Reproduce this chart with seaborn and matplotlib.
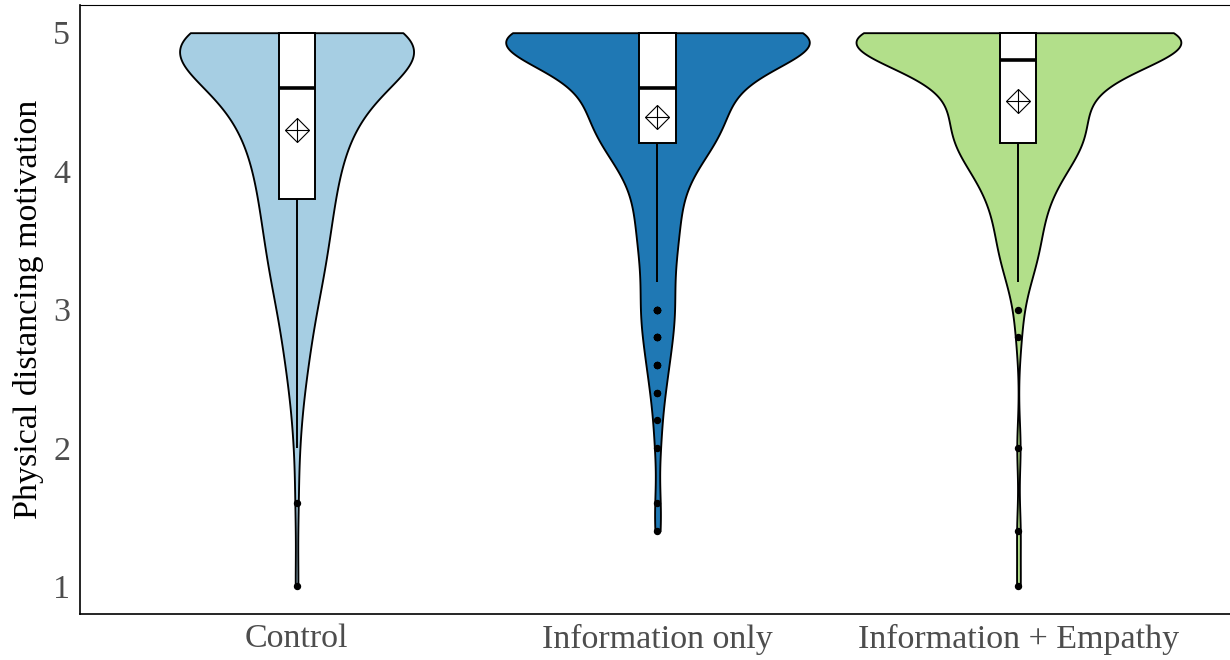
import numpy as np
import pandas as pd
import matplotlib
matplotlib.use("Agg")
import matplotlib.pyplot as plt
import seaborn as sns

# Study conditions and the response scale (mean of five 1-5 items)
conditions = ["Control", "Information only", "Information + Empathy"]
score_levels = [5.0, 4.8, 4.6, 4.4, 4.2, 4.0, 3.8, 3.6, 3.4, 3.2, 3.0,
                2.8, 2.6, 2.4, 2.2, 2.0, 1.8, 1.6, 1.4, 1.2, 1.0]

# Number of participants at each score level, per condition
control_counts = [55, 32, 21, 16, 13, 11, 10, 9, 8, 7, 5,
                  4, 3, 2, 1, 1, 0, 1, 0, 0, 1]
info_counts = [69, 30, 18, 19, 16, 9, 6, 6, 5, 4, 5,
               4, 3, 2, 1, 1, 0, 1, 1, 0, 0]
empathy_counts = [73, 34, 16, 18, 19, 12, 8, 6, 6, 3, 1,
                  1, 0, 0, 0, 1, 0, 0, 1, 0, 1]

y_ticks = [1, 2, 3, 4, 5]
y_label = "Physical distancing motivation"
fill_colors = ["#A6CEE3", "#1F78B4", "#B2DF8A"]

# Long-format table of individual responses
frames = []
for name, counts in zip(conditions, [control_counts, info_counts, empathy_counts]):
    scores = np.repeat(np.array(score_levels), counts)
    frames.append(pd.DataFrame({"condition": name, "score": scores}))
df = pd.concat(frames, ignore_index=True)


def silverman_nrd0(kde):
    # R's bw.nrd0 rule, expressed as a factor of the sample std
    x = np.asarray(kde.dataset).ravel()
    sd = x.std(ddof=1)
    q75, q25 = np.percentile(x, [75, 25])
    spread = min(sd, (q75 - q25) / 1.34)
    bw = 0.9 * spread * len(x) ** (-0.2)
    return bw / sd


sns.set_style("white")
plt.rcParams["font.family"] = ["Liberation Serif", "DejaVu Serif"]

fig = plt.figure(figsize=(12.3, 6.6), dpi=100)
ax = fig.add_axes([80 / 1230, 46 / 660, 1155 / 1230, 609 / 660])

sns.violinplot(
    data=df, x="condition", y="score", hue="condition",
    order=conditions, hue_order=conditions, palette=fill_colors,
    legend=False, cut=0, bw_method=silverman_nrd0, density_norm="area",
    common_norm=True, width=0.9, inner=None, linewidth=1.35,
    linecolor="black", saturation=1, gridsize=512, ax=ax,
)

sns.boxplot(
    data=df, x="condition", y="score", order=conditions,
    width=0.1, color="white", saturation=1, linewidth=1.4,
    linecolor="black", whis=1.5, showcaps=False, fliersize=4.3,
    flierprops=dict(marker="o", markerfacecolor="black",
                    markeredgecolor="black"),
    medianprops=dict(linewidth=2.6, color="black"),
    ax=ax,
)

# Group means: hollow diamond with a cross inside
sns.pointplot(
    data=df, x="condition", y="score", order=conditions,
    estimator="mean", errorbar=None, color="black",
    linestyle="none", marker="D", markersize=12.5,
    markerfacecolor="none", markeredgecolor="black",
    markeredgewidth=0.8, ax=ax,
)
sns.pointplot(
    data=df, x="condition", y="score", order=conditions,
    estimator="mean", errorbar=None, color="black",
    linestyle="none", marker="+", markersize=17.5,
    markeredgewidth=0.8, ax=ax,
)

ax.set_xlim(-0.6, 2.6)
ax.set_ylim(0.8, 5.2)
ax.set_yticks(y_ticks)
ax.set_yticklabels([str(t) for t in y_ticks])
ax.set_xlabel("")
ax.set_ylabel(y_label, fontsize=24.5, color="black", labelpad=7)

ax.tick_params(axis="both", which="major", direction="out", length=4,
               width=1.0, color="#333333", labelcolor="#4D4D4D",
               labelsize=24.5, pad=3)

for side in ["left", "bottom"]:
    ax.spines[side].set_visible(True)
    ax.spines[side].set_color("black")
    ax.spines[side].set_linewidth(1.2)
ax.spines["top"].set_visible(True)
ax.spines["top"].set_color("black")
ax.spines["top"].set_linewidth(0.8)
ax.spines["right"].set_visible(False)

fig.savefig("out.png", dpi=100)
